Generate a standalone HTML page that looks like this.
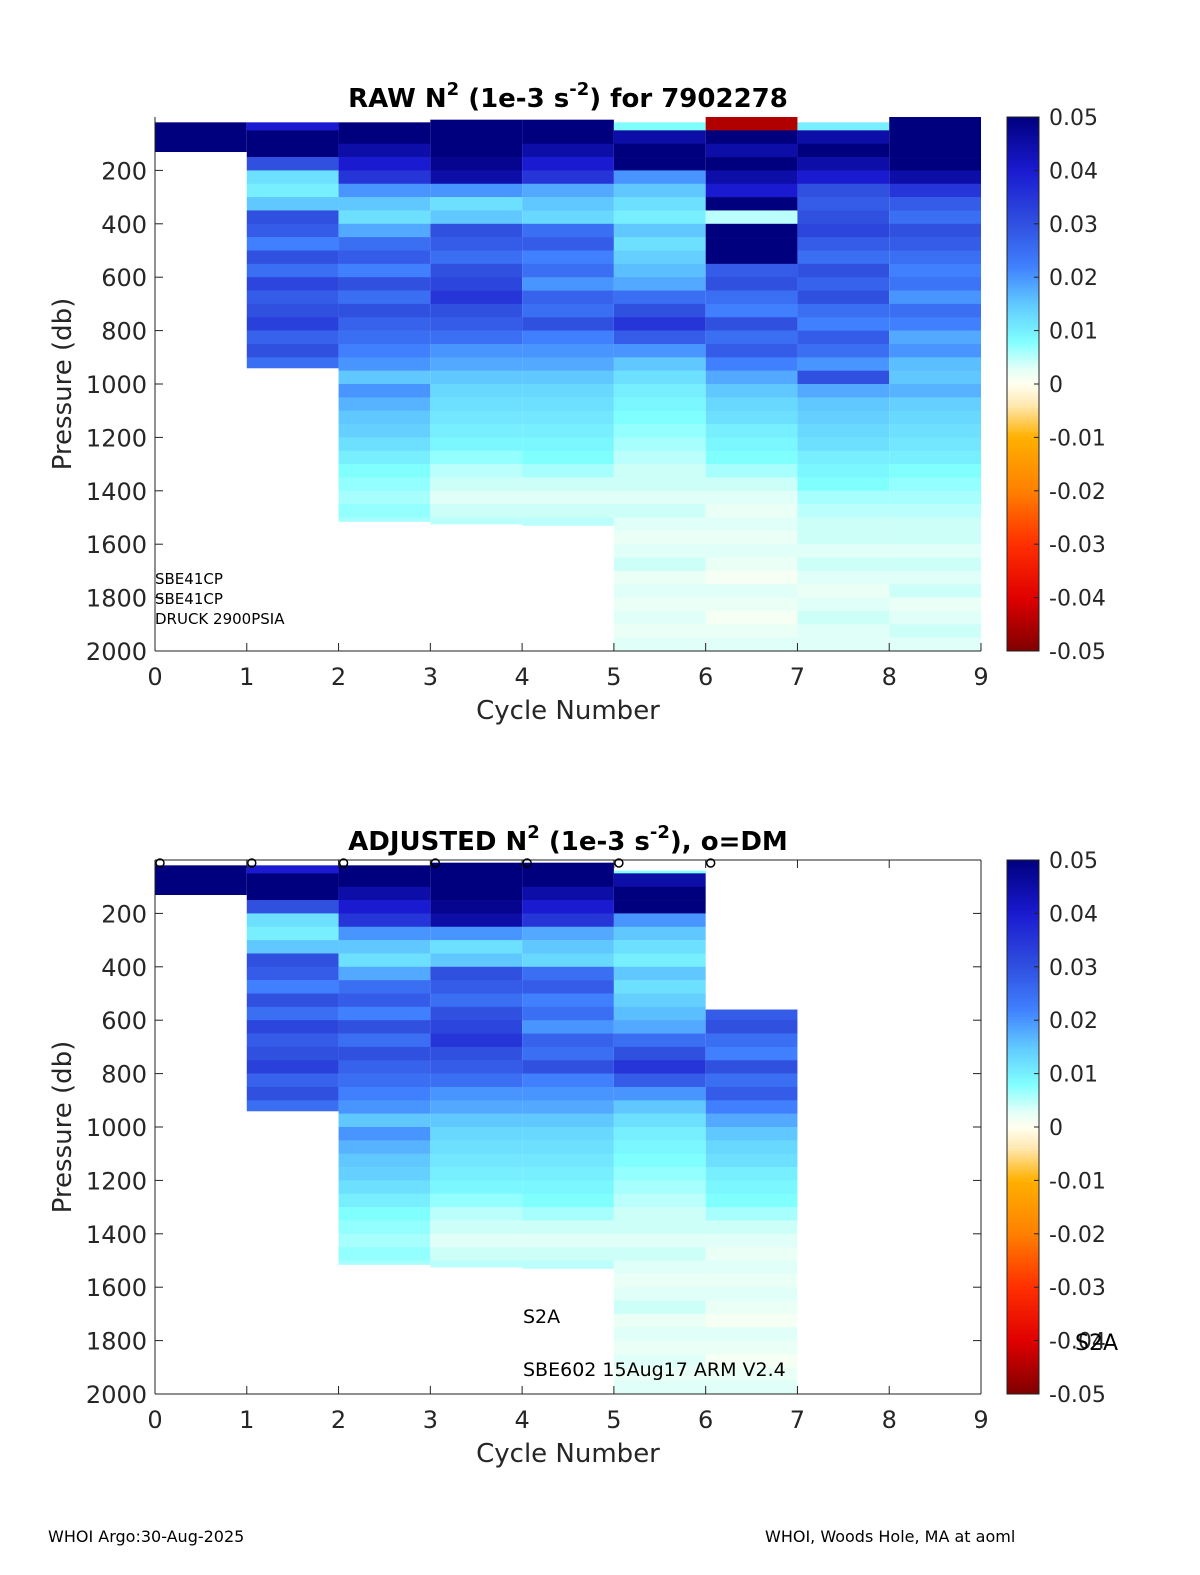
<!DOCTYPE html>
<html><head><meta charset="utf-8">
<style>
body{margin:0;background:#fff;}
svg{display:block;font-family:"DejaVu Sans","Liberation Sans",sans-serif;}
</style></head>
<body>
<svg id="chart" width="1200" height="1575" viewBox="0 0 1200 1575" xmlns="http://www.w3.org/2000/svg">
<g id="top"></g><g id="bot"></g>
<text x="48" y="1542" font-size="16">WHOI Argo:30-Aug-2025</text>
<text x="765" y="1542" font-size="16">WHOI, Woods Hole, MA at aoml</text>
</svg>
<script>
// ---- data (50 db bins starting at 0 db) ----
const cycles = [0,1,2,3,4,5,6,7,8];
const rawMaxP = [130,940,1515,1525,1530,2000,2000,2000,2000];
const rawMinP = [20,20,20,10,10,20,0,20,0];
const c0 = [0.05,0.05,0.05];
const c1 = [0.04,0.05,0.05,0.03,0.012,0.01,0.015,0.03,0.028,0.022,0.03,0.025,0.032,0.028,0.03,0.033,0.027,0.03,0.025];
const c2 = [0.05,0.05,0.045,0.04,0.035,0.02,0.015,0.012,0.018,0.025,0.028,0.022,0.03,0.025,0.03,0.027,0.025,0.022,0.02,0.015,0.02,0.017,0.015,0.014,0.012,0.01,0.008,0.007,0.006,0.007,0.006];
const c3 = [0.05,0.05,0.05,0.048,0.045,0.02,0.012,0.015,0.03,0.028,0.025,0.03,0.032,0.035,0.03,0.028,0.025,0.02,0.018,0.015,0.013,0.012,0.011,0.01,0.009,0.007,0.005,0.004,0.003,0.004,0.005];
const c4 = [0.05,0.05,0.045,0.04,0.035,0.018,0.015,0.013,0.025,0.028,0.022,0.025,0.02,0.027,0.025,0.03,0.022,0.02,0.018,0.015,0.013,0.012,0.011,0.01,0.009,0.008,0.006,0.004,0.003,0.004,0.005];
const c5 = [0.008,0.045,0.05,0.05,0.02,0.015,0.012,0.01,0.015,0.012,0.014,0.016,0.018,0.025,0.03,0.035,0.028,0.02,0.015,0.012,0.01,0.009,0.008,0.007,0.006,0.005,0.004,0.004,0.003,0.004,0.003,0.002,0.003,0.004,0.002,0.003,0.002,0.003,0.002,0.003];
const c6 = [-0.045,0.05,0.045,0.05,0.045,0.04,0.05,0.005,0.05,0.05,0.05,0.028,0.03,0.025,0.022,0.03,0.025,0.028,0.022,0.018,0.015,0.013,0.012,0.01,0.009,0.008,0.006,0.004,0.003,0.002,0.003,0.002,0.003,0.002,0.001,0.003,0.002,0.001,0.002,0.003];
const c7 = [0.01,0.045,0.05,0.045,0.04,0.03,0.028,0.03,0.032,0.028,0.025,0.03,0.027,0.03,0.025,0.022,0.028,0.025,0.02,0.03,0.018,0.015,0.014,0.013,0.012,0.01,0.009,0.008,0.006,0.005,0.004,0.004,0.003,0.004,0.003,0.002,0.003,0.004,0.003,0.003];
const c8 = [0.05,0.05,0.05,0.05,0.045,0.035,0.028,0.025,0.03,0.028,0.025,0.022,0.024,0.02,0.025,0.022,0.018,0.02,0.016,0.015,0.017,0.014,0.013,0.012,0.011,0.01,0.008,0.007,0.006,0.005,0.004,0.004,0.003,0.004,0.003,0.004,0.002,0.003,0.004,0.003];
const c6adj = [null,null,null,null,null,null,null,null,null,null,null,0.028,0.03,0.025,0.022,0.03,0.025,0.028,0.022,0.018,0.015,0.013,0.012,0.01,0.009,0.008,0.006,0.004,0.003,0.002,0.003,0.002,0.003,0.002,0.001,0.003,0.002,0.001,0.002,0.003];
const adjMaxP = [130,940,1515,1525,1530,2000,2000];
const adjMinP = [20,20,20,10,10,40,560];
const xTicks = [0,1,2,3,4,5,6,7,8,9];
const yTicks = [200,400,600,800,1000,1200,1400,1600,1800,2000];
const cbTicks = [0.05,0.04,0.03,0.02,0.01,0,-0.01,-0.02,-0.03,-0.04,-0.05];
const cbLabels = ["0.05","0.04","0.03","0.02","0.01","0","-0.01","-0.02","-0.03","-0.04","-0.05"];
const dmCycles = [0,1,2,3,4,5,6];

const NS="http://www.w3.org/2000/svg";
const stops=[[-0.05,[127,0,0]],[-0.04,[224,0,0]],[-0.03,[255,48,0]],[-0.02,[255,128,0]],[-0.01,[255,176,0]],[-0.004,[255,232,176]],[0,[255,255,240]],[0.003,[224,255,248]],[0.008,[128,255,255]],[0.015,[96,200,255]],[0.022,[64,128,255]],[0.03,[48,80,224]],[0.04,[26,26,208]],[0.05,[0,0,127]]];
function cmap(v){v=Math.max(-0.05,Math.min(0.05,v));
 for(let i=0;i<stops.length-1;i++){const a=stops[i],b=stops[i+1];
  if(v<=b[0]){const t=(v-a[0])/(b[0]-a[0]);const c=a[1].map((x,k)=>Math.round(x+(b[1][k]-x)*t));return `rgb(${c})`;}}
 return "rgb(0,0,127)";}
function el(parent,tag,attrs,text){const e=document.createElementNS(NS,tag);for(const k in attrs)e.setAttribute(k,attrs[k]);if(text!==undefined)e.textContent=text;parent.appendChild(e);return e;}

function drawPanel(g,top,cols,minP,maxP,box,title){
 const L=155,R=981,B=top+534;
 const xs=c=>L+c*(R-L)/9, ys=p=>top+p*(B-top)/2000;
 cols.forEach((arr,ci)=>{
  arr.forEach((v,bi)=>{
   if(v===null)return;
   const p0=Math.max(bi*50,minP[ci]),p1=Math.min(bi*50+50,maxP[ci]);
   if(p1<=p0)return;
   const r=el(g,'rect',{x:xs(cycles[ci]),y:ys(p0),width:xs(cycles[ci]+1)-xs(cycles[ci]),height:ys(p1)-ys(p0)+0.3,fill:cmap(v)});
   
   
  });
 });
 const ax=el(g,'g',{});
 
 
 el(ax,'line',{x1:L,y1:B,x2:R,y2:B,stroke:'#222','stroke-width':1});
 el(ax,'line',{x1:L,y1:top,x2:L,y2:B,stroke:'#222','stroke-width':1});
 if(box){el(ax,'line',{x1:L,y1:top,x2:R,y2:top,stroke:'#222'});el(ax,'line',{x1:R,y1:top,x2:R,y2:B,stroke:'#222'});}
 xTicks.forEach(t=>{el(ax,'line',{x1:xs(t),y1:B,x2:xs(t),y2:B-8,stroke:'#222'});
  if(box)el(ax,'line',{x1:xs(t),y1:top,x2:xs(t),y2:top+8,stroke:'#222'});
  const tx=el(ax,'text',{x:xs(t),y:B+34,'font-size':24,'text-anchor':'middle',fill:'#262626'},String(t));
  });
 yTicks.forEach(t=>{el(ax,'line',{x1:L,y1:ys(t),x2:L+8,y2:ys(t),stroke:'#222'});
  if(box)el(ax,'line',{x1:R,y1:ys(t),x2:R-8,y2:ys(t),stroke:'#222'});
  const tx=el(ax,'text',{x:L-8,y:ys(t)+9,'font-size':24,'text-anchor':'end',fill:'#262626'},String(t));
  });
 const xl=el(g,'text',{x:568,y:B+68,'font-size':26,'text-anchor':'middle',fill:'#262626'},'Cycle Number');
 
 const yl=el(g,'text',{x:0,y:0,'font-size':26,'text-anchor':'middle',fill:'#262626',transform:`translate(71,${(top+B)/2}) rotate(-90)`},'Pressure (db)');
 
 const tt=el(g,'text',{x:568,y:top-10,'font-size':26,'font-weight':'bold','text-anchor':'middle',fill:'#000'});
 
 tt.innerHTML=title;
 const cb=el(g,'g',{});
 
 const cx=1007,cw=32,n=200;
 for(let i=0;i<n;i++){const v=0.05-0.1*(i+0.5)/n;el(cb,'rect',{x:cx,y:top+i*(B-top)/n,width:cw,height:(B-top)/n+0.5,fill:cmap(v)});}
 el(cb,'rect',{x:cx,y:top,width:cw,height:B-top,fill:'none',stroke:'#222'});
 cbTicks.forEach((t,i)=>{const y=top+(0.05-t)/0.1*(B-top);
  el(cb,'line',{x1:cx+cw,y1:y,x2:cx+cw-5,y2:y,stroke:'#222'});
  const tx=el(cb,'text',{x:cx+42,y:y+8,'font-size':22,fill:'#262626'},cbLabels[i]);
  });
 return {xs,ys};
}
const gt=document.getElementById('top');
drawPanel(gt,117,[c0,c1,c2,c3,c4,c5,c6,c7,c8],rawMinP,rawMaxP,false,'RAW N<tspan dy="-12" font-size="18">2</tspan><tspan dy="12"> (1e-3 s</tspan><tspan dy="-12" font-size="18">-2</tspan><tspan dy="12">) for 7902278</tspan>');
["SBE41CP","SBE41CP","DRUCK 2900PSIA"].forEach((s,i)=>{const t=el(gt,'text',{x:155,y:584+i*20,'font-size':15,fill:'#000'},s);
 });
const gb=document.getElementById('bot');
const sc=drawPanel(gb,860,[c0,c1,c2,c3,c4,c5,c6adj],adjMinP,adjMaxP,true,'ADJUSTED N<tspan dy="-12" font-size="18">2</tspan><tspan dy="12"> (1e-3 s</tspan><tspan dy="-12" font-size="18">-2</tspan><tspan dy="12">), o=DM</tspan>');
dmCycles.forEach(c=>{const m=el(gb,'circle',{cx:sc.xs(c)+5,cy:863,r:4,fill:'none',stroke:'#000','stroke-width':1.5});
 });
[["S2A",523,1323,19],["SBE602 15Aug17 ARM V2.4",523,1376,19],["S2A",1075,1350,22]].forEach(a=>{const t=el(gb,'text',{x:a[1],y:a[2],'font-size':a[3],fill:'#000'},a[0]);
 });
</script>
</body></html>
